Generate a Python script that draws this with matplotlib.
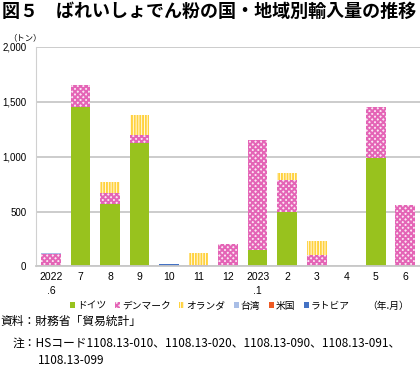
import numpy as np
import matplotlib.pyplot as plt

plt.rcParams['font.family'] = ['Noto Sans CJK JP', 'DejaVu Sans']
plt.rcParams['hatch.linewidth'] = 1.4

# data (tons)
months = ["2022\n.6", "7", "8", "9", "10", "11", "12", "2023\n.1", "2", "3", "4", "5", "6"]
germany = [0, 1450, 572, 1120, 0, 0, 0, 152, 500, 0, 0, 987, 0]
denmark = [115, 200, 98, 80, 0, 15, 204, 1003, 290, 100, 0, 466, 561]
netherlands = [0, 0, 103, 183, 0, 106, 0, 0, 60, 132, 0, 0, 0]
taiwan = [8, 0, 0, 0, 0, 0, 0, 0, 0, 0, 0, 0, 0]
usa = [0, 0, 0, 0, 0, 0, 0, 0, 0, 0, 0, 0, 0]
latvia = [0, 0, 0, 0, 18, 0, 0, 0, 0, 0, 0, 0, 0]

series = [
    ("ドイツ", germany, dict(color="#98C21E", edgecolor="#98C21E", linewidth=0)),
    ("デンマーク", denmark, dict(facecolor="#FBE6F3", edgecolor="#E464B6", hatch="xxxxxx", linewidth=0)),
    ("オランダ", netherlands, dict(facecolor="white", edgecolor="#FFD23F", hatch="||||||", linewidth=0)),
    ("台湾", taiwan, dict(facecolor="#A9BEE6", edgecolor="#A9BEE6", linewidth=0)),
    ("米国", usa, dict(color="#EE5A24", linewidth=0)),
    ("ラトビア", latvia, dict(color="#4472C4", linewidth=0)),
]

fig = plt.figure(figsize=(4.2, 3.69), dpi=100)
ax = fig.add_axes([0.086, 0.278, 0.914, 0.595])

x = np.arange(len(months))
bottom = np.zeros(len(months))
handles = []
for name, vals, style in series:
    vals = np.array(vals, dtype=float)
    b = ax.bar(x, vals, width=0.67, bottom=bottom, label=name, **style)
    handles.append(b)
    bottom += vals

ax.set_xlim(-0.5, len(months) - 0.5)
ax.set_ylim(0, 2000)
ax.set_yticks([0, 500, 1000, 1500, 2000])
ax.set_yticklabels(["0", "500", "1,000", "1,500", "2,000"], fontsize=7,
                   family=["Liberation Sans"])
ax.set_xticks(x)
ax.set_xticklabels(months, fontsize=7.5, linespacing=1.5, va="top",
                   family=["Liberation Sans"])
ax.tick_params(length=0, pad=4)
ax.tick_params(axis="y", pad=7)
ax.grid(axis="y", color="#C8C8C8", linewidth=1.3)
ax.set_axisbelow(True)
for s in ["top", "right"]:
    ax.spines[s].set_visible(False)
ax.spines["left"].set_color("#D0D0D0")
ax.spines["bottom"].set_color("#C8C8C8")
ax.spines["bottom"].set_linewidth(1.3)

leg = fig.legend(handles=handles, loc="center", bbox_to_anchor=(0.5, 0.172), ncol=6,
                 fontsize=7, frameon=False, handlelength=0.5, handleheight=0.5,
                 handletextpad=0.2, columnspacing=0.9)

fig.text(0.005, 0.995, "図５　ばれいしょでん粉の国・地域別輸入量の推移", fontsize=13,
         fontweight="bold", va="top", ha="left")
fig.text(0.02, 0.897, "（トン）", fontsize=6, va="center", ha="left")
fig.text(0.975, 0.172, "（年.月）", fontsize=7, va="center", ha="right")
fig.text(0.0, 0.128, "資料：財務省「貿易統計」", fontsize=8.5, va="center", ha="left")
fig.text(0.03, 0.07, "注：HSコード1108.13-010、1108.13-020、1108.13-090、1108.13-091、",
         fontsize=8.5, va="center", ha="left")
fig.text(0.09, 0.022, "1108.13-099", fontsize=8.5, va="center", ha="left")

fig.savefig("out.png", dpi=100)
